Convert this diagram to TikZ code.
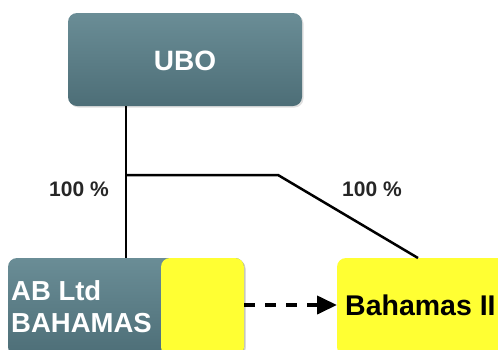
\documentclass[tikz,border=0pt]{standalone}
\usepackage{fontspec}
\setmainfont{Liberation Sans}
\usetikzlibrary{arrows.meta,shadows}
\definecolor{tealtop}{HTML}{6A8D96}
\definecolor{tealbot}{HTML}{4D6E77}
\definecolor{ybox}{HTML}{FFFF33}
\tikzset{
  tealbox/.style={rounded corners=9pt, top color=tealtop, bottom color=tealbot, draw=none,
    drop shadow={shadow xshift=1.5pt, shadow yshift=-1.5pt, opacity=0.25}},
  yelbox/.style={rounded corners=9pt, fill=ybox, draw=none,
    drop shadow={shadow xshift=1.5pt, shadow yshift=-1.5pt, opacity=0.2}},
  link/.style={line width=2.5pt, black},
  pct/.style={font=\bfseries\fontsize{21}{23}\selectfont, text=black!85},
  whitetxt/.style={font=\bfseries\fontsize{27.5}{32}\selectfont, text=white},
}
\begin{document}
\begin{tikzpicture}[x=1pt,y=-1pt]
\useasboundingbox (0,0) rectangle (498,349);
% UBO
\path[tealbox] (68,13) rectangle (302,106);
\node[whitetxt, inner sep=0, font=\bfseries\fontsize{28}{32}\selectfont] (ubo) at (185,61) {UBO};
\coordinate (uboB) at (126,106);
% AB Ltd box
\path[tealbox] (8,258) rectangle (244,356);
\path[yelbox] (161,258) rectangle (244,356);
\node[whitetxt, anchor=west, align=left, inner sep=0] (ab) at (11,307) {AB Ltd\\BAHAMAS};
\coordinate (abT) at (126,258);
\coordinate (abR) at (244,305);
% Bahamas II box
\path[yelbox] (337,258) rectangle (510,356);
\node[font=\bfseries\fontsize{28.5}{32}\selectfont, anchor=west, inner sep=0] (bah) at (345,305) {Bahamas II};
\coordinate (bahT) at (418,258);
\coordinate (bahL) at (337,305);
% connectors
\coordinate (j) at (126,175);
\coordinate (k) at (278,175);
\draw[link] (uboB) -- (abT);
\draw[link] (j) -- (k) -- (bahT);
\draw[line width=4pt, dash pattern=on 11pt off 10pt, -{Triangle[length=20pt,width=18pt]}] (abR) -- (bahL);
% labels
\node[pct] (p1) at (79,189) {100 \%};
\node[pct] (p2) at (372,189) {100 \%};
\end{tikzpicture}
\end{document}
